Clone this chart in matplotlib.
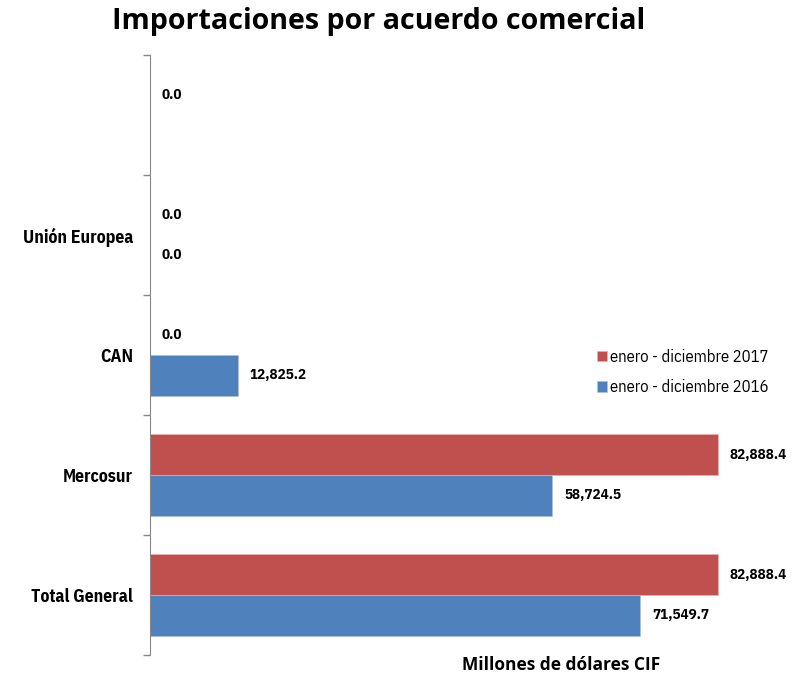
import numpy as np
import matplotlib.pyplot as plt
from matplotlib.ticker import FixedLocator

categories = ["Total General", "Mercosur", "CAN", "Unión Europea", ""]
values_2017 = [82888.4, 82888.4, 0.0, 0.0, 0.0]
values_2016 = [71549.7, 58724.5, 12825.2, 0.0, np.nan]
labels_2017 = ["82,888.4", "82,888.4", "0.0", "0.0", "0.0"]
labels_2016 = ["71,549.7", "58,724.5", "12,825.2", "0.0", ""]

narrow = ["Liberation Sans Narrow", "IBM Plex Sans Condensed", "DejaVu Sans"]
red = "#C0504D"
blue = "#4F81BD"

fig = plt.figure(figsize=(7.97, 6.77), dpi=100)
ax = fig.add_axes([150 / 797, 1 - 655 / 677, 640 / 797, (655 - 55) / 677])

xmax = 82888.4 * 640 / 568
y = np.arange(len(categories))
h = 0.34
ax.barh(y + h / 2, values_2017, height=h, color=red, edgecolor="#e8b0ae", linewidth=0.5,
        label="enero - diciembre 2017")
ax.barh(y - h / 2, values_2016, height=h, color=blue, edgecolor="#a9c0de", linewidth=0.5,
        label="enero - diciembre 2016")

off = xmax * 12 / 640
for yi, v, t in zip(y, values_2017, labels_2017):
    if t:
        ax.text(v + off, yi + h / 2, t, va="center", ha="left", fontsize=10.8,
                fontweight="bold", family=narrow)
for yi, v, t in zip(y, values_2016, labels_2016):
    if t:
        ax.text(v + off, yi - h / 2, t, va="center", ha="left", fontsize=10.8,
                fontweight="bold", family=narrow)

ax.set_xlim(0, xmax)
ax.set_ylim(-0.5, len(categories) - 0.5)
ax.set_xticks([])
ax.set_yticks(y)
ax.set_yticklabels(categories, fontsize=12.8, fontweight="bold", family=narrow)
ax.tick_params(axis="y", which="major", length=0, pad=12)
ax.yaxis.set_minor_locator(FixedLocator(np.arange(-0.5, len(categories), 1)))
ax.tick_params(axis="y", which="minor", length=5, color="#888888", width=1)
for s in ["top", "right", "bottom"]:
    ax.spines[s].set_visible(False)
ax.spines["left"].set_color("#888888")

ax.legend(loc="upper left", bbox_to_anchor=(582 / 797, 1 - 334 / 677), bbox_transform=fig.transFigure,
          frameon=False, handlelength=0.6, handleheight=0.6, handletextpad=0.2, labelspacing=0.85,
          prop={"family": narrow, "size": 12})

fig.text(379 / 797, 1 - 22 / 677, "Importaciones por acuerdo comercial", ha="center", va="center",
         fontsize=20.6, fontweight="bold", family=["Open Sans", "DejaVu Sans"])
fig.text(561 / 797, 1 - 665 / 677, "Millones de dólares CIF", ha="center", va="center",
         fontsize=12.5, fontweight="bold", family=["Open Sans", "DejaVu Sans"])

plt.savefig("out.png", dpi=100)
